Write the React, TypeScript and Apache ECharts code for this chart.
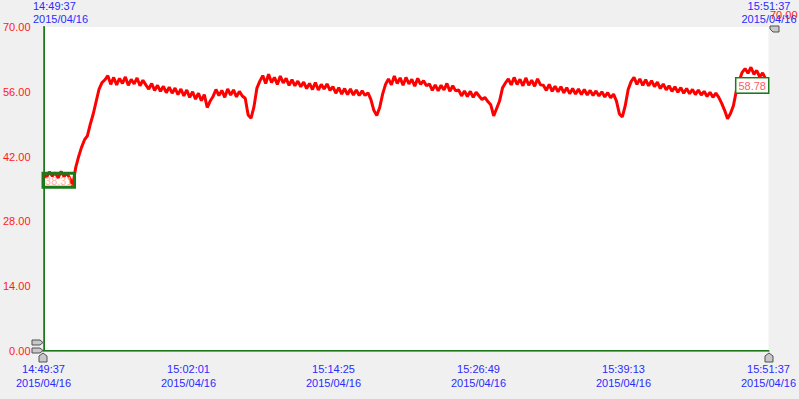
import React, { useEffect, useRef } from "react";
import * as echarts from "echarts";

// Chart values (one sample every ~15 s from 14:49:37 to 15:51:37)
const startTime = "14:49:37";
const dateLabel = "2015/04/16";
const spanSeconds = 3720;
const xTickInterval = 744;
const yTicks = [0, 14, 28, 42, 56, 70];

const values: number[] = [
  // flat start
  38.31, 37.5, 38.7, 37.8, 38.5, 37.4, 38.8, 37.7, 38.4, 37.3,
  35.8, 39.6,
  // rise
  42.0, 44.0, 45.6, 46.5, 49.0, 51.2, 53.9, 56.6, 58.0, 58.6,
  // plateau 1
  59.5, 57.6, 59.1, 57.5, 58.9, 57.8, 59.2, 57.4, 58.7, 57.7, 59.0, 57.3, 58.5, 57.5,
  56.6, 57.8, 56.3, 57.4, 56.1, 57.2, 55.8, 57.0, 55.7, 56.8,
  55.4, 56.6, 55.1, 56.4, 54.8, 56.0, 54.4, 55.7, 54.1, 55.4,
  52.6, 54.0,
  55.0, 56.5, 55.2, 56.3, 54.8, 56.6, 55.3, 56.4, 54.9, 56.1, 55.1,
  54.6, 51.0, 50.3, 52.8, 56.8, 58.3,
  // plateau 2
  59.5, 57.8, 59.8, 58.0, 59.1, 57.6, 59.4, 57.9, 58.9, 57.4, 58.6, 57.3, 58.3, 57.1,
  58.1, 56.7, 57.8, 56.5, 58.0, 56.4, 57.6, 56.6, 57.7, 56.3,
  57.1, 55.7, 56.9, 55.5, 56.7, 55.4, 56.6, 55.3, 56.4, 55.2, 56.2,
  55.2, 55.8, 54.3, 52.0, 50.9, 52.6, 55.5, 57.6,
  // plateau 3
  58.8, 57.5, 59.4, 57.8, 59.0, 57.4, 59.1, 57.7, 58.7, 57.2, 58.9, 57.6, 58.4, 57.3,
  57.7, 56.3, 57.5, 56.2, 57.4, 56.4, 57.8, 56.1, 57.3, 56.2,
  56.4, 55.1, 56.2, 55.0, 56.1, 54.8, 55.9,
  55.1, 54.3, 54.8,
  53.9, 53.2, 50.8, 52.4, 54.0, 56.8, 57.9,
  // plateau 4
  58.8, 57.5, 59.1, 57.6, 58.7, 57.3, 59.0, 57.4, 58.5, 57.2, 58.8, 57.5,
  57.4, 56.3, 57.6, 56.1, 57.2, 56.0, 57.1, 55.8, 56.9, 55.6, 56.7, 55.5, 56.6, 55.4, 56.5, 55.3, 56.3, 55.2, 56.2, 55.1,
  56.0, 54.9, 55.8, 54.7, 55.5,
  54.0, 51.2, 50.6, 53.0, 56.5, 58.2,
  // plateau 5
  59.1, 57.6, 58.8, 57.4, 58.6, 57.3, 58.4, 57.1, 58.1,
  56.7, 57.7, 56.4, 57.3, 56.1, 57.1, 55.9, 56.9, 55.7, 56.7, 55.6, 56.5, 55.4, 56.4, 55.3,
  56.1, 55.0, 55.9, 54.8, 55.7,
  // final dip and rise
  54.8, 53.5, 52.0, 50.2, 51.3, 53.0, 56.2, 58.4, 60.2, 61.0, 60.0, 61.3, 59.8, 60.6, 59.2, 60.1, 58.8, 58.78,
];

const FONT = '"Liberation Sans", Arial, sans-serif';
const BLUE_TEXT = "#2b2bff";
const RED_TEXT = "#ff1a1a";

function toSeconds(hms: string): number {
  const [h, m, s] = hms.split(":").map(Number);
  return h * 3600 + m * 60 + s;
}
function fmtTime(offset: number): string {
  const t = toSeconds(startTime) + Math.round(offset);
  const p = (n: number) => String(n).padStart(2, "0");
  return `${p(Math.floor(t / 3600) % 24)}:${p(Math.floor((t % 3600) / 60))}:${p(t % 60)}`;
}

export default function App() {
  const ref = useRef<HTMLDivElement>(null);
  useEffect(() => {
    if (!ref.current) return;
    const chart = echarts.init(ref.current, undefined, { renderer: "svg" });
    const step = spanSeconds / (values.length - 1);
    const data = values.map((v, i) => [i * step, v]);
    const first = values[0];
    const last = values[values.length - 1];
    const handle = { fill: "#c8c8c8", stroke: "#505050", lineWidth: 1 };
    chart.setOption({
      animation: false,
      backgroundColor: "#f0f0f0",
      grid: {
        left: 43,
        right: 30,
        top: 27,
        bottom: 48,
        show: true,
        backgroundColor: "#ffffff",
        borderWidth: 0,
      },
      xAxis: [
        {
          type: "value",
          min: 0,
          max: spanSeconds,
          interval: xTickInterval,
          position: "bottom",
          axisLine: { show: true, lineStyle: { color: "#1a7a1a", width: 2 } },
          axisTick: { show: false },
          splitLine: { show: false },
          axisLabel: {
            color: BLUE_TEXT,
            fontSize: 11,
            fontFamily: FONT,
            lineHeight: 14,
            margin: 11,
            showMinLabel: true,
            showMaxLabel: true,
            formatter: (v: number) => `${fmtTime(v)}\n${dateLabel}`,
          },
        },
        {
          type: "value",
          min: 0,
          max: spanSeconds,
          position: "top",
          axisLine: { show: true, lineStyle: { color: "#e07a1a", width: 1 } },
          axisTick: { show: false },
          axisLabel: { show: false },
          splitLine: { show: false },
        },
      ],
      yAxis: [
        {
          type: "value",
          min: yTicks[0],
          max: yTicks[yTicks.length - 1],
          interval: yTicks[1] - yTicks[0],
          position: "left",
          axisLine: { show: true, lineStyle: { color: "#1a7a1a", width: 2 } },
          axisTick: { show: false },
          splitLine: { show: false },
          axisLabel: {
            color: RED_TEXT,
            fontSize: 11,
            fontFamily: FONT,
            margin: 13,
            formatter: (v: number) => v.toFixed(2),
          },
        },
        {
          type: "value",
          min: yTicks[0],
          max: yTicks[yTicks.length - 1],
          position: "right",
          axisLine: { show: true, lineStyle: { color: "#1e8cff", width: 1 } },
          axisTick: { show: false },
          axisLabel: { show: false },
          splitLine: { show: false },
        },
      ],
      series: [
        {
          type: "line",
          xAxisIndex: 0,
          yAxisIndex: 0,
          data,
          showSymbol: false,
          lineStyle: { color: "#ff0000", width: 3 },
          itemStyle: { color: "#ff0000" },
          markPoint: {
            symbol: "rect",
            symbolSize: 1,
            itemStyle: { color: "rgba(0,0,0,0)" },
            data: [
              {
                coord: [0, first],
                value: first,
                label: {
                  show: true,
                  position: [0, 0],
                  align: "left",
                  verticalAlign: "top",
                  formatter: first.toFixed(2),
                  color: "#ffb0a0",
                  fontSize: 11,
                  fontFamily: FONT,
                  lineHeight: 13,
                  padding: [1, 2, 0, 2],
                  borderColor: "#1a7a1a",
                  borderWidth: 1.5,
                  backgroundColor: "transparent",
                },
              },
              {
                coord: [spanSeconds, last],
                value: last,
                label: {
                  show: true,
                  position: [0, 0],
                  align: "right",
                  verticalAlign: "top",
                  formatter: last.toFixed(2),
                  color: "#ff5a6a",
                  fontSize: 11,
                  fontFamily: FONT,
                  lineHeight: 13,
                  padding: [1, 2, 0, 2],
                  borderColor: "#1a7a1a",
                  borderWidth: 1.5,
                  backgroundColor: "#ffffff",
                },
              },
            ],
          },
        },
      ],
      graphic: [
        {
          type: "text",
          x: 770,
          y: 9,
          z: 10,
          style: {
            text: yTicks[yTicks.length - 1].toFixed(2),
            fill: RED_TEXT,
            font: `11px ${FONT}`,
            textAlign: "left",
            textVerticalAlign: "top",
          },
        },
        {
          type: "text",
          x: 33,
          y: -1,
          z: 11,
          style: {
            text: `${fmtTime(0)}\n${dateLabel}`,
            fill: BLUE_TEXT,
            font: `11px ${FONT}`,
            lineHeight: 13.5,
            textAlign: "left",
            textVerticalAlign: "top",
          },
        },
        {
          type: "text",
          x: 769,
          y: -1,
          z: 11,
          style: {
            text: `${fmtTime(spanSeconds)}\n${dateLabel}`,
            fill: BLUE_TEXT,
            font: `11px ${FONT}`,
            lineHeight: 13.5,
            textAlign: "center",
            textVerticalAlign: "top",
          },
        },
        {
          type: "polygon",
          z: 12,
          shape: { points: [[32, 340], [40, 340], [43, 342.5], [40, 345], [32, 345]] },
          style: handle,
        },
        {
          type: "polygon",
          z: 12,
          shape: { points: [[32, 348], [40, 348], [43, 350.5], [40, 353], [32, 353]] },
          style: handle,
        },
        {
          type: "polygon",
          z: 12,
          shape: { points: [[39, 362], [39, 356], [43, 353], [47, 356], [47, 362]] },
          style: handle,
        },
        {
          type: "polygon",
          z: 12,
          shape: { points: [[765, 362], [765, 356], [769, 353], [773, 356], [773, 362]] },
          style: handle,
        },
        {
          type: "polygon",
          z: 12,
          shape: { points: [[770, 26], [779, 26], [779, 32], [773, 32], [770, 29]] },
          style: handle,
        },
      ],
    });
    return () => chart.dispose();
  }, []);
  return (
    <div
      ref={ref}
      style={{ position: "fixed", left: 0, top: 0, width: 799, height: 399 }}
    />
  );
}
